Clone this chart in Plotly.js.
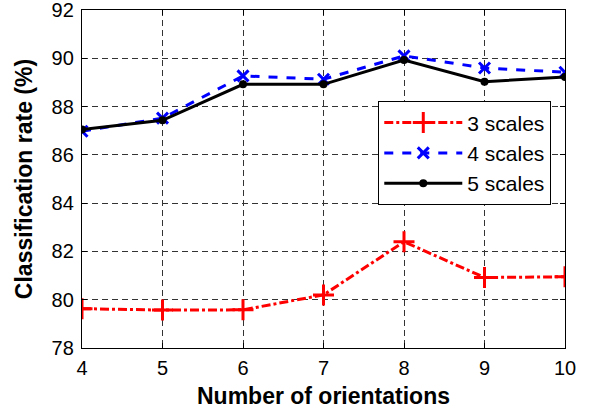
<!DOCTYPE html>
<html>
<head>
<meta charset="utf-8">
<script src="https://cdn.plot.ly/plotly-3.0.1.min.js"></script>
<style>html,body{margin:0;padding:0;background:#fff;}#chart{width:592px;height:413px;}</style>
</head>
<body>
<div id="chart"></div>
<script>
const orientations = [4, 5, 6, 7, 8, 9, 10];
const scales3 = [79.63, 79.57, 79.58, 80.2, 82.4, 80.92, 80.95];
const scales4 = [86.98, 87.52, 89.27, 89.13, 90.1, 89.6, 89.42];
const scales5 = [87.05, 87.43, 88.92, 88.92, 89.93, 89.03, 89.23];
const rateTicks = [78, 80, 82, 84, 86, 88, 90, 92];
const seriesNames = ['3 scales', '4 scales', '5 scales'];

const FONT = 'Arial, "Liberation Sans", sans-serif';

const traces = [
  {
    x: orientations, y: scales3, name: seriesNames[0], type: 'scatter', mode: 'lines+markers',
    line: {color: '#ff0000', width: 3, dash: 'dashdot'},
    marker: {symbol: 'cross-thin', size: 15, color: '#ff0000', line: {color: '#ff0000', width: 3}}
  },
  {
    x: orientations, y: scales4, name: seriesNames[1], type: 'scatter', mode: 'lines+markers',
    line: {color: '#0000ff', width: 3, dash: 'dash'},
    marker: {symbol: 'x-thin', size: 11, color: '#0000ff', line: {color: '#0000ff', width: 3}}
  },
  {
    x: orientations, y: scales5, name: seriesNames[2], type: 'scatter', mode: 'lines+markers',
    line: {color: '#000000', width: 3},
    marker: {symbol: 'circle', size: 8, color: '#000000'}
  }
];

const axisCommon = {
  showline: true, linecolor: '#000', linewidth: 1.2, mirror: 'ticks',
  ticks: 'inside', ticklen: 5, tickcolor: '#000', tickwidth: 1,
  showgrid: true, gridcolor: '#333', gridwidth: 1, griddash: '6px,4px',
  zeroline: false, tickfont: {family: FONT, size: 20, color: '#000'}
};

const layout = {
  width: 592, height: 413,
  margin: {l: 82, r: 27, t: 10, b: 65},
  paper_bgcolor: '#fff', plot_bgcolor: '#fff',
  showlegend: true,
  xaxis: Object.assign({}, axisCommon, {
    range: [4, 10], tickmode: 'array', tickvals: orientations, ticklabelstandoff: 2,
    title: {text: 'Number of orientations', font: {family: FONT, size: 23, color: '#000', weight: 'bold'}, standoff: 9}
  }),
  yaxis: Object.assign({}, axisCommon, {
    range: [78, 92], tickmode: 'array', tickvals: rateTicks, ticklabelstandoff: 3,
    ticklabeloverflow: 'allow',
    title: {text: 'Classification rate (%)', font: {family: FONT, size: 23, color: '#000', weight: 'bold'}, standoff: 12}
  }),
  legend: {
    x: 0.613, y: 0.73, xanchor: 'left', yanchor: 'top',
    bgcolor: '#fff', bordercolor: '#000', borderwidth: 1.2,
    font: {family: FONT, size: 21, color: '#000'},
    itemwidth: 78
  }
};

Plotly.newPlot('chart', traces, layout, {displayModeBar: false, staticPlot: true});
</script>
</body>
</html>
